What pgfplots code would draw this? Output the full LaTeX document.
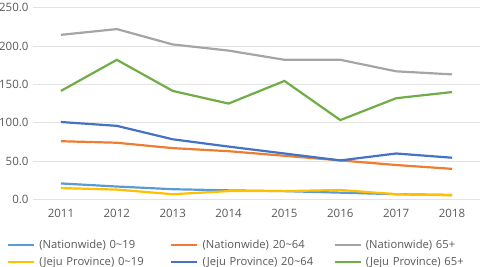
\documentclass[border=0pt]{standalone}
\usepackage{pgfplots}
\pgfplotsset{compat=1.18}
\usepackage{fontspec}
\setmainfont{Open Sans}
\definecolor{cA}{HTML}{5B9BD5}
\definecolor{cB}{HTML}{ED7D31}
\definecolor{cC}{HTML}{A5A5A5}
\definecolor{cD}{HTML}{FFC000}
\definecolor{cE}{HTML}{4472C4}
\definecolor{cF}{HTML}{70AD47}
\definecolor{txt}{HTML}{595959}
\begin{document}
\begin{tikzpicture}[trim left=-33pt, trim right=450pt]
\begin{axis}[
  at={(0,0)}, anchor=south west,
  scale only axis,
  width=447pt, height=192pt,
  xmin=2010.5, xmax=2018.5,
  ymin=0, ymax=250,
  xtick={2011,...,2018},
  ytick={0,50,...,250},
  xticklabel style={/pgf/number format/1000 sep={}, yshift=-6pt},
  yticklabel style={xshift=-1pt, /pgf/number format/fixed, /pgf/number format/fixed zerofill, /pgf/number format/precision=1},
  /pgf/number format/assume math mode=true,
  ymajorgrids,
  grid style={gray!22, line width=0.8pt},
  axis line style={draw=none},
  major tick length=0pt,
  tick label style={font=\fontsize{11.5}{13}\selectfont, text=txt},
  every axis plot/.append style={line width=2.2pt, mark=none},
  legend columns=3,
  legend style={at={(0,0)}, anchor=north west, xshift=-26pt, yshift=-40pt, draw=none, fill=none,
    font=\fontsize{11.2}{13}\selectfont, text=txt, inner sep=0pt,
    nodes={text width=131pt, inner sep=0pt, align=left},
    /tikz/every odd column/.append style={column sep=4pt},
    row sep=7pt},
  legend cell align=left,
  legend image code/.code={\draw[#1, line width=2.2pt] (0pt,0pt) -- (26pt,0pt);},
]
\addplot[cA] coordinates {(2011,21) (2012,17) (2013,13.5) (2014,12) (2015,11) (2016,9) (2017,7) (2018,6)};
\addlegendentry{(Nationwide) 0\textasciitilde19}
\addplot[cB] coordinates {(2011,76) (2012,74) (2013,67) (2014,63) (2015,57) (2016,51) (2017,45) (2018,40)};
\addlegendentry{(Nationwide) 20\textasciitilde64}
\addplot[cC] coordinates {(2011,214.5) (2012,222) (2013,202) (2014,194) (2015,182) (2016,182) (2017,167) (2018,163)};
\addlegendentry{(Nationwide) 65+}
\addplot[cD] coordinates {(2011,15) (2012,13) (2013,7) (2014,11) (2015,11) (2016,12.5) (2017,7) (2018,5.5)};
\addlegendentry{(Jeju Province) 0\textasciitilde19}
\addplot[cE] coordinates {(2011,101) (2012,96) (2013,78.5) (2014,69) (2015,60) (2016,51) (2017,60) (2018,54.5)};
\addlegendentry{(Jeju Province) 20\textasciitilde64}
\addplot[cF] coordinates {(2011,141.5) (2012,182) (2013,141.5) (2014,125) (2015,154.5) (2016,103.5) (2017,132) (2018,140)};
\addlegendentry{(Jeju Province) 65+}
\end{axis}
\end{tikzpicture}
\end{document}
